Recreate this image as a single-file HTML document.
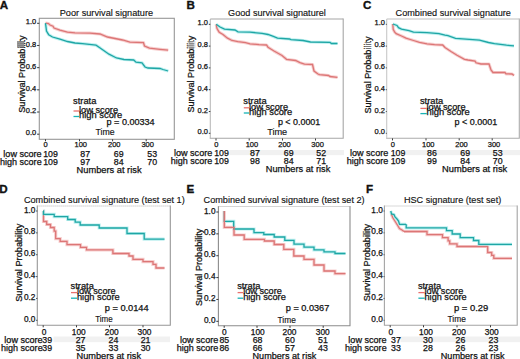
<!DOCTYPE html>
<html><head><meta charset="utf-8"><style>
html,body{margin:0;padding:0;background:#fff;}
body{width:520px;height:359px;overflow:hidden;}
svg{display:block;font-family:"Liberation Sans", sans-serif;}
text{stroke:#111;stroke-width:0.25px;}
text.t{stroke-width:0.14px;}
text.L{stroke-width:0.35px;}
</style></head><body>
<svg width="520" height="359" viewBox="0 0 520 359">
<rect x="0" y="0" width="520" height="359" fill="#fff"/>
<polyline points="45.50,23.20 48.50,23.60 50.00,25.00 53.00,26.20 54.00,28.00 60.00,30.20 67.50,32.20 75.00,32.80 90.00,33.20 100.00,34.00 107.50,37.00 115.00,38.50 122.50,40.00 130.00,42.20 143.50,42.70 144.50,46.00 149.50,48.20 160.00,49.30 168.20,50.20" fill="none" stroke="#f7cfcf" stroke-width="3.2" stroke-linejoin="round"/>
<polyline points="45.50,23.20 46.50,31.00 48.70,34.70 52.50,37.00 60.00,39.20 67.50,41.50 75.00,43.00 82.50,43.70 96.00,45.20 100.50,48.20 109.00,54.20 116.50,58.00 124.00,59.50 133.70,60.00 136.00,62.20 142.00,62.80 145.00,67.00 148.00,68.00 160.00,68.50 163.00,69.50 168.20,71.00" fill="none" stroke="#bff0f0" stroke-width="3.2" stroke-linejoin="round"/>
<polyline points="216.20,24.30 217.00,28.50 219.20,32.20 223.00,34.50 227.50,38.20 232.00,40.50 238.00,41.70 245.50,42.70 250.00,43.80 259.00,44.70 266.50,45.00 268.00,47.20 274.00,51.00 282.00,55.50 286.50,59.30 295.50,60.50 300.00,62.70 304.50,64.20 312.50,64.50 314.00,71.00 318.00,74.00 319.50,74.70 328.50,75.50 330.00,76.50 337.50,77.30" fill="none" stroke="#f7cfcf" stroke-width="3.2" stroke-linejoin="round"/>
<polyline points="216.20,24.30 220.00,27.00 224.50,29.20 235.00,30.00 238.00,31.80 250.00,32.20 262.00,33.30 268.00,34.50 274.00,36.70 277.50,38.20 289.50,39.00 291.00,39.70 303.00,40.50 310.50,42.00 330.00,42.40 331.50,43.50 337.50,43.50" fill="none" stroke="#bff0f0" stroke-width="3.2" stroke-linejoin="round"/>
<polyline points="392.80,24.00 393.20,29.20 394.70,32.20 396.20,33.70 401.50,36.00 406.00,38.20 413.50,40.50 419.50,42.30 427.00,43.80 434.50,44.70 442.70,45.00 445.00,47.50 451.00,51.50 457.00,55.20 464.50,59.30 468.00,60.00 475.00,61.00 476.00,62.80 481.00,64.00 489.00,64.00 491.00,70.00 493.00,72.50 505.00,72.50 506.00,73.80 512.00,74.00 514.00,75.50" fill="none" stroke="#f7cfcf" stroke-width="3.2" stroke-linejoin="round"/>
<polyline points="392.80,24.00 397.00,25.50 398.50,27.70 401.50,29.20 409.00,30.70 413.50,32.20 427.00,32.70 439.00,33.70 445.00,35.20 448.00,35.70 455.50,38.30 466.00,39.20 479.50,40.20 488.50,42.50 494.50,43.70 506.50,45.20 514.00,45.80" fill="none" stroke="#bff0f0" stroke-width="3.2" stroke-linejoin="round"/>
<path d="M43.30,211.00 H43.50 V221.50 H46.70 V224.50 H50.50 V227.50 H54.20 V231.20 H55.70 V238.70 H60.20 V241.40 H67.00 V244.70 H80.50 V247.40 H86.50 V249.90 H112.90 V253.50 H129.00 V256.00 H133.00 V259.40 H143.00 V261.60 H153.00 V264.40 H156.00 V268.00 H164.50" fill="none" stroke="#f7cfcf" stroke-width="3.2"/>
<path d="M43.30,211.00 H43.50 V214.30 H54.20 V216.70 H67.70 V219.50 H75.20 V222.20 H80.20 V225.00 H99.20 V228.00 H127.00 V233.50 H144.20 V239.20 H164.50" fill="none" stroke="#bff0f0" stroke-width="3.2"/>
<path d="M224.30,211.00 H224.30 V221.30 H233.70 V229.00 H254.00 V232.60 H263.80 V234.50 H274.20 V237.00 H284.80 V240.30 H294.00 V244.20 H304.00 V247.20 H314.00 V249.80 H324.00 V251.80 H335.00 V253.50 H345.50" fill="none" stroke="#bff0f0" stroke-width="3.2"/>
<path d="M224.30,211.00 H224.30 V227.40 H234.00 V235.00 H244.20 V239.30 H264.40 V241.00 H274.20 V244.50 H283.80 V249.40 H293.80 V256.00 H304.00 V259.40 H314.00 V265.00 H324.00 V271.00 H335.00 V273.70 H345.50" fill="none" stroke="#f7cfcf" stroke-width="3.2"/>
<polyline points="391.30,214.00 393.00,218.00 395.50,222.00 398.00,226.00 399.50,228.60 402.00,230.00 404.00,231.50" fill="none" stroke="#f7cfcf" stroke-width="3.2" stroke-linejoin="round"/>
<path d="M404.00,231.50 H427.00 V234.60 H442.50 V237.60 H448.10 V240.80 H449.70 V243.80 H457.00 V246.50 H487.70 V252.50 H491.70 V255.40 H493.80 V258.30 H512.00" fill="none" stroke="#f7cfcf" stroke-width="3.2"/>
<polyline points="390.80,211.00 391.50,214.00 394.00,214.50 395.00,217.00 397.00,219.00 398.50,221.00 399.50,224.30 406.20,224.30" fill="none" stroke="#bff0f0" stroke-width="3.2" stroke-linejoin="round"/>
<path d="M406.20,224.30 H406.20 V227.90 H446.50 V230.70 H452.20 V234.00 H460.20 V237.60 H473.50 V240.50 H478.80 V244.40 H512.00" fill="none" stroke="#bff0f0" stroke-width="3.2"/>
<rect x="229.50" y="150.00" width="114.50" height="5.20" fill="#000" fill-opacity="0.055"/>
<rect x="405.50" y="150.00" width="114.50" height="5.20" fill="#000" fill-opacity="0.055"/>
<rect x="53.50" y="336.50" width="116.50" height="5.70" fill="#000" fill-opacity="0.055"/>
<rect x="400.50" y="336.50" width="119.50" height="5.70" fill="#000" fill-opacity="0.055"/>
<text x="-0.30" y="8.50" font-size="11.60" font-weight="bold" fill="#111" class="L">A</text>
<text x="59.75" y="15.70" font-size="9.10" textLength="93.30" lengthAdjust="spacingAndGlyphs" fill="#111" class="t">Poor survival signature</text>
<rect x="39.30" y="18.30" width="135.00" height="121.00" fill="none" stroke="#979797" stroke-width="1.1"/>
<text x="36.30" y="24.48" font-size="7.50" text-anchor="end" fill="#111">1.0</text>
<line x1="37.10" y1="23.30" x2="39.30" y2="23.30" stroke="#222" stroke-width="0.9"/>
<text x="36.30" y="46.67" font-size="7.50" text-anchor="end" fill="#111">0.8</text>
<line x1="37.10" y1="45.48" x2="39.30" y2="45.48" stroke="#222" stroke-width="0.9"/>
<text x="36.30" y="68.84" font-size="7.50" text-anchor="end" fill="#111">0.6</text>
<line x1="37.10" y1="67.66" x2="39.30" y2="67.66" stroke="#222" stroke-width="0.9"/>
<text x="36.30" y="91.02" font-size="7.50" text-anchor="end" fill="#111">0.4</text>
<line x1="37.10" y1="89.84" x2="39.30" y2="89.84" stroke="#222" stroke-width="0.9"/>
<text x="36.30" y="113.20" font-size="7.50" text-anchor="end" fill="#111">0.2</text>
<line x1="37.10" y1="112.02" x2="39.30" y2="112.02" stroke="#222" stroke-width="0.9"/>
<text x="36.30" y="135.39" font-size="7.50" text-anchor="end" fill="#111">0.0</text>
<line x1="37.10" y1="134.20" x2="39.30" y2="134.20" stroke="#222" stroke-width="0.9"/>
<text transform="translate(24.80,74.10) rotate(-90)" font-size="9.0" text-anchor="middle" textLength="77.20" lengthAdjust="spacingAndGlyphs" fill="#111">Survival Probability</text>
<rect x="17.00" y="41.00" width="7.40" height="6.70" fill="#8c8c8c" fill-opacity="0.9"/>
<text x="45.50" y="147.20" font-size="7.50" text-anchor="middle" fill="#111">0</text>
<line x1="45.50" y1="139.30" x2="45.50" y2="141.30" stroke="#222" stroke-width="0.9"/>
<text x="80.75" y="147.20" font-size="7.50" text-anchor="middle" fill="#111">100</text>
<line x1="79.50" y1="139.30" x2="79.50" y2="141.30" stroke="#222" stroke-width="0.9"/>
<text x="114.25" y="147.20" font-size="7.50" text-anchor="middle" fill="#111">200</text>
<line x1="112.60" y1="139.30" x2="112.60" y2="141.30" stroke="#222" stroke-width="0.9"/>
<text x="147.70" y="147.20" font-size="7.50" text-anchor="middle" fill="#111">300</text>
<line x1="146.20" y1="139.30" x2="146.20" y2="141.30" stroke="#222" stroke-width="0.9"/>
<polyline points="45.50,23.20 48.50,23.60 50.00,25.00 53.00,26.20 54.00,28.00 60.00,30.20 67.50,32.20 75.00,32.80 90.00,33.20 100.00,34.00 107.50,37.00 115.00,38.50 122.50,40.00 130.00,42.20 143.50,42.70 144.50,46.00 149.50,48.20 160.00,49.30 168.20,50.20" fill="none" stroke="#dc7676" stroke-width="1.3" stroke-linejoin="miter"/>
<polyline points="45.50,23.20 46.50,31.00 48.70,34.70 52.50,37.00 60.00,39.20 67.50,41.50 75.00,43.00 82.50,43.70 96.00,45.20 100.50,48.20 109.00,54.20 116.50,58.00 124.00,59.50 133.70,60.00 136.00,62.20 142.00,62.80 145.00,67.00 148.00,68.00 160.00,68.50 163.00,69.50 168.20,71.00" fill="none" stroke="#1fa6a5" stroke-width="1.3" stroke-linejoin="miter"/>
<text x="73.05" y="104.10" font-size="9.00" textLength="23.30" lengthAdjust="spacingAndGlyphs" fill="#111">strata</text>
<text x="79.05" y="112.70" font-size="9.00" textLength="39.00" lengthAdjust="spacingAndGlyphs" fill="#111">low score</text>
<text x="79.05" y="117.60" font-size="9.00" textLength="43.10" lengthAdjust="spacingAndGlyphs" fill="#111">high score</text>
<line x1="73.50" y1="111.00" x2="79.30" y2="111.00" stroke="#e8706e" stroke-width="1.3"/>
<line x1="73.50" y1="116.50" x2="79.30" y2="116.50" stroke="#17b3b5" stroke-width="1.3"/>
<text x="106.55" y="124.90" font-size="8.90" textLength="48.10" lengthAdjust="spacingAndGlyphs" fill="#111">p = 0.00334</text>
<text x="95.55" y="135.20" font-size="8.60" textLength="19.10" lengthAdjust="spacingAndGlyphs" fill="#111" class="t">Time</text>
<text x="3.35" y="157.30" font-size="8.80" textLength="38.30" lengthAdjust="spacingAndGlyphs" fill="#111">low score</text>
<text x="0.05" y="164.80" font-size="8.80" textLength="41.60" lengthAdjust="spacingAndGlyphs" fill="#111">high score</text>
<text x="50.50" y="157.30" font-size="8.80" text-anchor="middle" fill="#111">109</text>
<text x="50.50" y="164.80" font-size="8.80" text-anchor="middle" fill="#111">109</text>
<text x="85.25" y="157.30" font-size="8.80" text-anchor="middle" fill="#111">87</text>
<text x="85.25" y="164.80" font-size="8.80" text-anchor="middle" fill="#111">97</text>
<text x="118.75" y="157.30" font-size="8.80" text-anchor="middle" fill="#111">69</text>
<text x="118.75" y="164.80" font-size="8.80" text-anchor="middle" fill="#111">84</text>
<text x="152.25" y="157.30" font-size="8.80" text-anchor="middle" fill="#111">53</text>
<text x="152.25" y="164.80" font-size="8.80" text-anchor="middle" fill="#111">70</text>
<text x="76.55" y="173.00" font-size="9.20" textLength="65.00" lengthAdjust="spacingAndGlyphs" fill="#111">Numbers at risk</text>
<text x="186.50" y="8.50" font-size="11.60" font-weight="bold" fill="#111" class="L">B</text>
<text x="228.05" y="15.70" font-size="9.10" textLength="97.80" lengthAdjust="spacingAndGlyphs" fill="#111" class="t">Good survival signaturel</text>
<path d="M343.20,19.00 V138.30 H210.30" fill="none" stroke="#a6a6a6" stroke-width="1.1" stroke-linecap="square"/>
<line x1="210.30" y1="19.00" x2="210.30" y2="138.30" stroke="#bababa" stroke-width="1.1"/>
<line x1="210.30" y1="19.00" x2="343.20" y2="19.00" stroke="#a6a6a6" stroke-width="1.1"/>
<text x="208.00" y="25.33" font-size="7.50" text-anchor="end" fill="#111">1.0</text>
<line x1="208.80" y1="24.30" x2="210.30" y2="24.30" stroke="#222" stroke-width="0.9"/>
<text x="208.00" y="47.17" font-size="7.50" text-anchor="end" fill="#111">0.8</text>
<line x1="208.80" y1="46.10" x2="210.30" y2="46.10" stroke="#222" stroke-width="0.9"/>
<text x="208.00" y="69.00" font-size="7.50" text-anchor="end" fill="#111">0.6</text>
<line x1="208.80" y1="67.90" x2="210.30" y2="67.90" stroke="#222" stroke-width="0.9"/>
<text x="208.00" y="90.83" font-size="7.50" text-anchor="end" fill="#111">0.4</text>
<line x1="208.80" y1="89.70" x2="210.30" y2="89.70" stroke="#222" stroke-width="0.9"/>
<text x="208.00" y="112.66" font-size="7.50" text-anchor="end" fill="#111">0.2</text>
<line x1="208.80" y1="111.50" x2="210.30" y2="111.50" stroke="#222" stroke-width="0.9"/>
<text x="208.00" y="134.49" font-size="7.50" text-anchor="end" fill="#111">0.0</text>
<line x1="208.80" y1="133.30" x2="210.30" y2="133.30" stroke="#222" stroke-width="0.9"/>
<text transform="translate(194.20,74.10) rotate(-90)" font-size="9.0" text-anchor="middle" textLength="77.00" lengthAdjust="spacingAndGlyphs" fill="#111">Survival Probability</text>
<rect x="187.70" y="41.00" width="7.80" height="7.00" fill="#999" fill-opacity="0.35"/>
<rect x="187.70" y="41.00" width="7.80" height="7.00" fill="#fff" fill-opacity="0.3"/>
<text x="216.40" y="147.20" font-size="7.50" text-anchor="middle" fill="#111">0</text>
<line x1="216.00" y1="138.50" x2="216.00" y2="140.50" stroke="#222" stroke-width="0.9"/>
<text x="251.90" y="147.20" font-size="7.50" text-anchor="middle" fill="#111">100</text>
<line x1="249.20" y1="138.50" x2="249.20" y2="140.50" stroke="#222" stroke-width="0.9"/>
<text x="284.50" y="147.20" font-size="7.50" text-anchor="middle" fill="#111">200</text>
<line x1="282.50" y1="138.50" x2="282.50" y2="140.50" stroke="#222" stroke-width="0.9"/>
<text x="317.60" y="147.20" font-size="7.50" text-anchor="middle" fill="#111">300</text>
<line x1="315.50" y1="138.50" x2="315.50" y2="140.50" stroke="#222" stroke-width="0.9"/>
<polyline points="216.20,24.30 217.00,28.50 219.20,32.20 223.00,34.50 227.50,38.20 232.00,40.50 238.00,41.70 245.50,42.70 250.00,43.80 259.00,44.70 266.50,45.00 268.00,47.20 274.00,51.00 282.00,55.50 286.50,59.30 295.50,60.50 300.00,62.70 304.50,64.20 312.50,64.50 314.00,71.00 318.00,74.00 319.50,74.70 328.50,75.50 330.00,76.50 337.50,77.30" fill="none" stroke="#dc7676" stroke-width="1.3" stroke-linejoin="miter"/>
<polyline points="216.20,24.30 220.00,27.00 224.50,29.20 235.00,30.00 238.00,31.80 250.00,32.20 262.00,33.30 268.00,34.50 274.00,36.70 277.50,38.20 289.50,39.00 291.00,39.70 303.00,40.50 310.50,42.00 330.00,42.40 331.50,43.50 337.50,43.50" fill="none" stroke="#1fa6a5" stroke-width="1.3" stroke-linejoin="miter"/>
<text x="243.35" y="104.40" font-size="9.00" textLength="23.30" lengthAdjust="spacingAndGlyphs" fill="#111">strata</text>
<text x="249.05" y="110.10" font-size="9.00" textLength="39.00" lengthAdjust="spacingAndGlyphs" fill="#111">low score</text>
<text x="249.05" y="114.70" font-size="9.00" textLength="43.10" lengthAdjust="spacingAndGlyphs" fill="#111">high score</text>
<line x1="243.80" y1="107.80" x2="249.30" y2="107.80" stroke="#e8706e" stroke-width="1.3"/>
<line x1="243.80" y1="113.00" x2="249.30" y2="113.00" stroke="#17b3b5" stroke-width="1.3"/>
<text x="277.95" y="124.90" font-size="8.90" textLength="42.30" lengthAdjust="spacingAndGlyphs" fill="#111">p &lt; 0.0001</text>
<text x="267.15" y="135.20" font-size="8.60" textLength="20.10" lengthAdjust="spacingAndGlyphs" fill="#111" class="t">Time</text>
<text x="173.95" y="156.30" font-size="8.80" textLength="38.30" lengthAdjust="spacingAndGlyphs" fill="#111">low score</text>
<text x="170.65" y="163.80" font-size="8.80" textLength="41.60" lengthAdjust="spacingAndGlyphs" fill="#111">high score</text>
<text x="221.50" y="156.30" font-size="8.80" text-anchor="middle" fill="#111">109</text>
<text x="221.50" y="163.80" font-size="8.80" text-anchor="middle" fill="#111">109</text>
<text x="255.00" y="156.30" font-size="8.80" text-anchor="middle" fill="#111">87</text>
<text x="255.00" y="163.80" font-size="8.80" text-anchor="middle" fill="#111">98</text>
<text x="288.75" y="156.30" font-size="8.80" text-anchor="middle" fill="#111">69</text>
<text x="288.75" y="163.80" font-size="8.80" text-anchor="middle" fill="#111">84</text>
<text x="321.25" y="156.30" font-size="8.80" text-anchor="middle" fill="#111">52</text>
<text x="321.25" y="163.80" font-size="8.80" text-anchor="middle" fill="#111">71</text>
<text x="265.80" y="171.80" font-size="9.20" textLength="64.45" lengthAdjust="spacingAndGlyphs" fill="#111">Numbers at risk</text>
<text x="363.10" y="8.60" font-size="11.60" font-weight="bold" fill="#111" class="L">C</text>
<text x="395.55" y="15.70" font-size="9.10" textLength="115.30" lengthAdjust="spacingAndGlyphs" fill="#111" class="t">Combined survival signature</text>
<path d="M519.30,19.00 V138.30 H386.70" fill="none" stroke="#acacac" stroke-width="1.1" stroke-linecap="square"/>
<line x1="386.70" y1="19.00" x2="386.70" y2="138.30" stroke="#c8c8c8" stroke-width="1.1"/>
<line x1="386.70" y1="19.00" x2="519.30" y2="19.00" stroke="#c0c0c0" stroke-width="1.1"/>
<text x="385.00" y="25.33" font-size="7.50" text-anchor="end" fill="#111">1.0</text>
<line x1="385.80" y1="24.30" x2="386.70" y2="24.30" stroke="#222" stroke-width="0.9"/>
<text x="385.00" y="47.17" font-size="7.50" text-anchor="end" fill="#111">0.8</text>
<line x1="385.80" y1="46.10" x2="386.70" y2="46.10" stroke="#222" stroke-width="0.9"/>
<text x="385.00" y="69.00" font-size="7.50" text-anchor="end" fill="#111">0.6</text>
<line x1="385.80" y1="67.90" x2="386.70" y2="67.90" stroke="#222" stroke-width="0.9"/>
<text x="385.00" y="90.83" font-size="7.50" text-anchor="end" fill="#111">0.4</text>
<line x1="385.80" y1="89.70" x2="386.70" y2="89.70" stroke="#222" stroke-width="0.9"/>
<text x="385.00" y="112.66" font-size="7.50" text-anchor="end" fill="#111">0.2</text>
<line x1="385.80" y1="111.50" x2="386.70" y2="111.50" stroke="#222" stroke-width="0.9"/>
<text x="385.00" y="134.49" font-size="7.50" text-anchor="end" fill="#111">0.0</text>
<line x1="385.80" y1="133.30" x2="386.70" y2="133.30" stroke="#222" stroke-width="0.9"/>
<text transform="translate(370.90,75.05) rotate(-90)" font-size="9.0" text-anchor="middle" textLength="77.10" lengthAdjust="spacingAndGlyphs" fill="#111">Survival Probability</text>
<rect x="364.50" y="42.00" width="8.00" height="7.40" fill="#fff" fill-opacity="0.4"/>
<text x="392.75" y="147.20" font-size="7.50" text-anchor="middle" fill="#111">0</text>
<line x1="392.50" y1="138.40" x2="392.50" y2="140.40" stroke="#222" stroke-width="0.9"/>
<text x="428.25" y="147.20" font-size="7.50" text-anchor="middle" fill="#111">100</text>
<line x1="426.00" y1="138.40" x2="426.00" y2="140.40" stroke="#222" stroke-width="0.9"/>
<text x="461.50" y="147.20" font-size="7.50" text-anchor="middle" fill="#111">200</text>
<line x1="459.20" y1="138.40" x2="459.20" y2="140.40" stroke="#222" stroke-width="0.9"/>
<text x="494.00" y="147.20" font-size="7.50" text-anchor="middle" fill="#111">300</text>
<line x1="492.20" y1="138.40" x2="492.20" y2="140.40" stroke="#222" stroke-width="0.9"/>
<polyline points="392.80,24.00 393.20,29.20 394.70,32.20 396.20,33.70 401.50,36.00 406.00,38.20 413.50,40.50 419.50,42.30 427.00,43.80 434.50,44.70 442.70,45.00 445.00,47.50 451.00,51.50 457.00,55.20 464.50,59.30 468.00,60.00 475.00,61.00 476.00,62.80 481.00,64.00 489.00,64.00 491.00,70.00 493.00,72.50 505.00,72.50 506.00,73.80 512.00,74.00 514.00,75.50" fill="none" stroke="#dc7676" stroke-width="1.3" stroke-linejoin="miter"/>
<polyline points="392.80,24.00 397.00,25.50 398.50,27.70 401.50,29.20 409.00,30.70 413.50,32.20 427.00,32.70 439.00,33.70 445.00,35.20 448.00,35.70 455.50,38.30 466.00,39.20 479.50,40.20 488.50,42.50 494.50,43.70 506.50,45.20 514.00,45.80" fill="none" stroke="#1fa6a5" stroke-width="1.3" stroke-linejoin="miter"/>
<text x="419.95" y="104.20" font-size="9.00" textLength="23.30" lengthAdjust="spacingAndGlyphs" fill="#111">strata</text>
<text x="426.55" y="109.90" font-size="9.00" textLength="39.00" lengthAdjust="spacingAndGlyphs" fill="#111">low score</text>
<text x="426.55" y="114.50" font-size="9.00" textLength="43.10" lengthAdjust="spacingAndGlyphs" fill="#111">high score</text>
<line x1="420.40" y1="108.40" x2="426.80" y2="108.40" stroke="#e8706e" stroke-width="1.3"/>
<line x1="420.40" y1="113.60" x2="426.80" y2="113.60" stroke="#17b3b5" stroke-width="1.3"/>
<text x="454.55" y="124.90" font-size="8.90" textLength="42.70" lengthAdjust="spacingAndGlyphs" fill="#111">p &lt; 0.0001</text>
<text x="349.95" y="156.30" font-size="8.80" textLength="38.30" lengthAdjust="spacingAndGlyphs" fill="#111">low score</text>
<text x="346.65" y="163.80" font-size="8.80" textLength="41.60" lengthAdjust="spacingAndGlyphs" fill="#111">high score</text>
<text x="398.00" y="156.30" font-size="8.80" text-anchor="middle" fill="#111">109</text>
<text x="398.00" y="163.80" font-size="8.80" text-anchor="middle" fill="#111">109</text>
<text x="431.90" y="156.30" font-size="8.80" text-anchor="middle" fill="#111">86</text>
<text x="431.90" y="163.80" font-size="8.80" text-anchor="middle" fill="#111">99</text>
<text x="465.25" y="156.30" font-size="8.80" text-anchor="middle" fill="#111">69</text>
<text x="465.25" y="163.80" font-size="8.80" text-anchor="middle" fill="#111">84</text>
<text x="497.75" y="156.30" font-size="8.80" text-anchor="middle" fill="#111">53</text>
<text x="497.75" y="163.80" font-size="8.80" text-anchor="middle" fill="#111">70</text>
<text x="442.05" y="171.80" font-size="9.20" textLength="65.20" lengthAdjust="spacingAndGlyphs" fill="#111">Numbers at risk</text>
<text x="-0.70" y="192.90" font-size="11.60" font-weight="bold" fill="#111" class="L">D</text>
<text x="23.95" y="203.30" font-size="9.10" textLength="160.80" lengthAdjust="spacingAndGlyphs" fill="#111" class="t">Combined survival signature (test set 1)</text>
<path d="M37.30,206.00 V325.30 H170.30 V206.00" fill="none" stroke="#979797" stroke-width="1.1" stroke-linecap="square"/>
<line x1="37.30" y1="206.00" x2="170.30" y2="206.00" stroke="#b8b8b8" stroke-width="0.9" stroke-dasharray="1.2,0.8"/>
<text x="35.40" y="212.55" font-size="8.25" text-anchor="end" fill="#111">1.0</text>
<line x1="36.20" y1="211.00" x2="37.30" y2="211.00" stroke="#222" stroke-width="0.9"/>
<text x="35.40" y="234.41" font-size="8.25" text-anchor="end" fill="#111">0.8</text>
<line x1="36.20" y1="232.86" x2="37.30" y2="232.86" stroke="#222" stroke-width="0.9"/>
<text x="35.40" y="256.27" font-size="8.25" text-anchor="end" fill="#111">0.6</text>
<line x1="36.20" y1="254.72" x2="37.30" y2="254.72" stroke="#222" stroke-width="0.9"/>
<text x="35.40" y="278.13" font-size="8.25" text-anchor="end" fill="#111">0.4</text>
<line x1="36.20" y1="276.58" x2="37.30" y2="276.58" stroke="#222" stroke-width="0.9"/>
<text x="35.40" y="299.99" font-size="8.25" text-anchor="end" fill="#111">0.2</text>
<line x1="36.20" y1="298.44" x2="37.30" y2="298.44" stroke="#222" stroke-width="0.9"/>
<text x="35.40" y="321.85" font-size="8.25" text-anchor="end" fill="#111">0.0</text>
<line x1="36.20" y1="320.30" x2="37.30" y2="320.30" stroke="#222" stroke-width="0.9"/>
<text transform="translate(21.60,262.70) rotate(-90)" font-size="9.0" text-anchor="middle" textLength="78.20" lengthAdjust="spacingAndGlyphs" fill="#111">Survival Probability</text>
<text x="44.00" y="335.00" font-size="8.35" text-anchor="middle" fill="#111">0</text>
<line x1="43.20" y1="325.30" x2="43.20" y2="327.30" stroke="#222" stroke-width="0.9"/>
<text x="78.75" y="335.00" font-size="8.35" text-anchor="middle" fill="#111">100</text>
<line x1="76.50" y1="325.30" x2="76.50" y2="327.30" stroke="#222" stroke-width="0.9"/>
<text x="111.75" y="335.00" font-size="8.35" text-anchor="middle" fill="#111">200</text>
<line x1="109.50" y1="325.30" x2="109.50" y2="327.30" stroke="#222" stroke-width="0.9"/>
<text x="144.50" y="335.00" font-size="8.35" text-anchor="middle" fill="#111">300</text>
<line x1="143.00" y1="325.30" x2="143.00" y2="327.30" stroke="#222" stroke-width="0.9"/>
<path d="M43.30,211.00 H43.50 V221.50 H46.70 V224.50 H50.50 V227.50 H54.20 V231.20 H55.70 V238.70 H60.20 V241.40 H67.00 V244.70 H80.50 V247.40 H86.50 V249.90 H112.90 V253.50 H129.00 V256.00 H133.00 V259.40 H143.00 V261.60 H153.00 V264.40 H156.00 V268.00 H164.50" fill="none" stroke="#dc7676" stroke-width="1.3"/>
<path d="M43.30,211.00 H43.50 V214.30 H54.20 V216.70 H67.70 V219.50 H75.20 V222.20 H80.20 V225.00 H99.20 V228.00 H127.00 V233.50 H144.20 V239.20 H164.50" fill="none" stroke="#1fa6a5" stroke-width="1.3"/>
<text x="70.55" y="288.90" font-size="9.00" textLength="23.30" lengthAdjust="spacingAndGlyphs" fill="#111">strata</text>
<text x="76.95" y="294.10" font-size="9.00" textLength="38.70" lengthAdjust="spacingAndGlyphs" fill="#111">low score</text>
<text x="76.95" y="299.50" font-size="9.00" textLength="42.70" lengthAdjust="spacingAndGlyphs" fill="#111">high score</text>
<line x1="71.00" y1="292.60" x2="77.20" y2="292.60" stroke="#e8706e" stroke-width="1.3"/>
<line x1="71.00" y1="298.20" x2="77.20" y2="298.20" stroke="#17b3b5" stroke-width="1.3"/>
<text x="104.75" y="311.00" font-size="8.90" textLength="43.90" lengthAdjust="spacingAndGlyphs" fill="#111">p = 0.0144</text>
<text x="95.15" y="322.40" font-size="8.40" textLength="17.50" lengthAdjust="spacingAndGlyphs" fill="#111" class="t">Time</text>
<text x="4.35" y="343.10" font-size="8.80" textLength="38.30" lengthAdjust="spacingAndGlyphs" fill="#111">low score</text>
<text x="1.05" y="350.60" font-size="8.80" textLength="41.60" lengthAdjust="spacingAndGlyphs" fill="#111">high score</text>
<text x="47.20" y="343.10" font-size="8.80" text-anchor="middle" fill="#111">39</text>
<text x="47.20" y="350.60" font-size="8.80" text-anchor="middle" fill="#111">39</text>
<text x="80.60" y="343.10" font-size="8.80" text-anchor="middle" fill="#111">27</text>
<text x="80.60" y="350.60" font-size="8.80" text-anchor="middle" fill="#111">35</text>
<text x="113.50" y="343.10" font-size="8.80" text-anchor="middle" fill="#111">24</text>
<text x="113.50" y="350.60" font-size="8.80" text-anchor="middle" fill="#111">33</text>
<text x="145.60" y="343.10" font-size="8.80" text-anchor="middle" fill="#111">21</text>
<text x="145.60" y="350.60" font-size="8.80" text-anchor="middle" fill="#111">30</text>
<text x="76.55" y="359.40" font-size="9.20" textLength="64.50" lengthAdjust="spacingAndGlyphs" fill="#111">Numbers at risk</text>
<text x="186.50" y="192.90" font-size="11.60" font-weight="bold" fill="#111" class="L">E</text>
<text x="203.55" y="203.00" font-size="9.10" textLength="161.10" lengthAdjust="spacingAndGlyphs" fill="#111" class="t">Combined survival signature (test set 2)</text>
<path d="M218.40,206.50 V325.80 H350.00 V206.50" fill="none" stroke="#8c8c8c" stroke-width="1.1" stroke-linecap="square"/>
<line x1="218.40" y1="206.50" x2="350.00" y2="206.50" stroke="#b0b0b0" stroke-width="0.9" stroke-dasharray="1.2,0.8"/>
<text x="215.50" y="213.60" font-size="8.25" text-anchor="end" fill="#111">1.0</text>
<line x1="216.30" y1="212.00" x2="218.40" y2="212.00" stroke="#222" stroke-width="0.9"/>
<text x="215.50" y="235.43" font-size="8.25" text-anchor="end" fill="#111">0.8</text>
<line x1="216.30" y1="233.86" x2="218.40" y2="233.86" stroke="#222" stroke-width="0.9"/>
<text x="215.50" y="257.26" font-size="8.25" text-anchor="end" fill="#111">0.6</text>
<line x1="216.30" y1="255.72" x2="218.40" y2="255.72" stroke="#222" stroke-width="0.9"/>
<text x="215.50" y="279.09" font-size="8.25" text-anchor="end" fill="#111">0.4</text>
<line x1="216.30" y1="277.58" x2="218.40" y2="277.58" stroke="#222" stroke-width="0.9"/>
<text x="215.50" y="300.92" font-size="8.25" text-anchor="end" fill="#111">0.2</text>
<line x1="216.30" y1="299.44" x2="218.40" y2="299.44" stroke="#222" stroke-width="0.9"/>
<text x="215.50" y="322.75" font-size="8.25" text-anchor="end" fill="#111">0.0</text>
<line x1="216.30" y1="321.30" x2="218.40" y2="321.30" stroke="#222" stroke-width="0.9"/>
<text transform="translate(201.90,267.30) rotate(-90)" font-size="9.0" text-anchor="middle" textLength="77.40" lengthAdjust="spacingAndGlyphs" fill="#111">Survival Probability</text>
<text x="224.25" y="334.80" font-size="8.35" text-anchor="middle" fill="#111">0</text>
<line x1="224.20" y1="325.80" x2="224.20" y2="327.80" stroke="#222" stroke-width="0.9"/>
<text x="257.75" y="334.80" font-size="8.35" text-anchor="middle" fill="#111">100</text>
<line x1="257.00" y1="325.80" x2="257.00" y2="327.80" stroke="#222" stroke-width="0.9"/>
<text x="289.50" y="334.80" font-size="8.35" text-anchor="middle" fill="#111">200</text>
<line x1="290.00" y1="325.80" x2="290.00" y2="327.80" stroke="#222" stroke-width="0.9"/>
<text x="322.75" y="334.80" font-size="8.35" text-anchor="middle" fill="#111">300</text>
<line x1="323.20" y1="325.80" x2="323.20" y2="327.80" stroke="#222" stroke-width="0.9"/>
<path d="M224.30,211.00 H224.30 V221.30 H233.70 V229.00 H254.00 V232.60 H263.80 V234.50 H274.20 V237.00 H284.80 V240.30 H294.00 V244.20 H304.00 V247.20 H314.00 V249.80 H324.00 V251.80 H335.00 V253.50 H345.50" fill="none" stroke="#1fa6a5" stroke-width="1.3"/>
<path d="M224.30,211.00 H224.30 V227.40 H234.00 V235.00 H244.20 V239.30 H264.40 V241.00 H274.20 V244.50 H283.80 V249.40 H293.80 V256.00 H304.00 V259.40 H314.00 V265.00 H324.00 V271.00 H335.00 V273.70 H345.50" fill="none" stroke="#dc7676" stroke-width="1.3"/>
<text x="237.15" y="288.90" font-size="9.00" textLength="23.30" lengthAdjust="spacingAndGlyphs" fill="#111">strata</text>
<text x="243.15" y="294.10" font-size="9.00" textLength="38.70" lengthAdjust="spacingAndGlyphs" fill="#111">low score</text>
<text x="243.15" y="299.50" font-size="9.00" textLength="42.70" lengthAdjust="spacingAndGlyphs" fill="#111">high score</text>
<line x1="237.60" y1="292.60" x2="243.40" y2="292.60" stroke="#e8706e" stroke-width="1.3"/>
<line x1="237.60" y1="298.20" x2="243.40" y2="298.20" stroke="#17b3b5" stroke-width="1.3"/>
<text x="285.75" y="311.00" font-size="8.90" textLength="43.50" lengthAdjust="spacingAndGlyphs" fill="#111">p = 0.0367</text>
<text x="277.55" y="323.00" font-size="8.40" textLength="18.30" lengthAdjust="spacingAndGlyphs" fill="#111" class="t">Time</text>
<text x="179.95" y="343.10" font-size="8.80" textLength="38.30" lengthAdjust="spacingAndGlyphs" fill="#111">low score</text>
<text x="176.65" y="350.60" font-size="8.80" textLength="41.60" lengthAdjust="spacingAndGlyphs" fill="#111">high score</text>
<text x="224.30" y="343.10" font-size="8.80" text-anchor="middle" fill="#111">85</text>
<text x="224.30" y="350.60" font-size="8.80" text-anchor="middle" fill="#111">86</text>
<text x="257.60" y="343.10" font-size="8.80" text-anchor="middle" fill="#111">68</text>
<text x="257.60" y="350.60" font-size="8.80" text-anchor="middle" fill="#111">66</text>
<text x="290.00" y="343.10" font-size="8.80" text-anchor="middle" fill="#111">60</text>
<text x="290.00" y="350.60" font-size="8.80" text-anchor="middle" fill="#111">57</text>
<text x="323.00" y="343.10" font-size="8.80" text-anchor="middle" fill="#111">51</text>
<text x="323.00" y="350.60" font-size="8.80" text-anchor="middle" fill="#111">43</text>
<text x="252.55" y="359.40" font-size="9.20" textLength="63.70" lengthAdjust="spacingAndGlyphs" fill="#111">Numbers at risk</text>
<text x="366.10" y="192.90" font-size="11.60" font-weight="bold" fill="#111" class="L">F</text>
<text x="403.95" y="203.30" font-size="9.10" textLength="97.30" lengthAdjust="spacingAndGlyphs" fill="#111" class="t">HSC signature (test set)</text>
<path d="M384.40,206.00 V325.30 H517.20 V206.00" fill="none" stroke="#a4a4a4" stroke-width="1.1" stroke-linecap="square"/>
<line x1="384.40" y1="206.00" x2="517.20" y2="206.00" stroke="#b8b8b8" stroke-width="0.9" stroke-dasharray="1.2,0.8"/>
<text x="382.80" y="212.55" font-size="8.25" text-anchor="end" fill="#111">1.0</text>
<line x1="383.60" y1="211.00" x2="384.40" y2="211.00" stroke="#222" stroke-width="0.9"/>
<text x="382.80" y="234.41" font-size="8.25" text-anchor="end" fill="#111">0.8</text>
<line x1="383.60" y1="232.86" x2="384.40" y2="232.86" stroke="#222" stroke-width="0.9"/>
<text x="382.80" y="256.27" font-size="8.25" text-anchor="end" fill="#111">0.6</text>
<line x1="383.60" y1="254.72" x2="384.40" y2="254.72" stroke="#222" stroke-width="0.9"/>
<text x="382.80" y="278.13" font-size="8.25" text-anchor="end" fill="#111">0.4</text>
<line x1="383.60" y1="276.58" x2="384.40" y2="276.58" stroke="#222" stroke-width="0.9"/>
<text x="382.80" y="299.99" font-size="8.25" text-anchor="end" fill="#111">0.2</text>
<line x1="383.60" y1="298.44" x2="384.40" y2="298.44" stroke="#222" stroke-width="0.9"/>
<text x="382.80" y="321.85" font-size="8.25" text-anchor="end" fill="#111">0.0</text>
<line x1="383.60" y1="320.30" x2="384.40" y2="320.30" stroke="#222" stroke-width="0.9"/>
<text transform="translate(370.00,262.65) rotate(-90)" font-size="9.0" text-anchor="middle" textLength="77.30" lengthAdjust="spacingAndGlyphs" fill="#111">Survival Probability</text>
<text x="390.75" y="334.80" font-size="8.35" text-anchor="middle" fill="#111">0</text>
<line x1="390.20" y1="325.30" x2="390.20" y2="327.30" stroke="#222" stroke-width="0.9"/>
<text x="426.00" y="334.80" font-size="8.35" text-anchor="middle" fill="#111">100</text>
<line x1="423.50" y1="325.30" x2="423.50" y2="327.30" stroke="#222" stroke-width="0.9"/>
<text x="459.00" y="334.80" font-size="8.35" text-anchor="middle" fill="#111">200</text>
<line x1="457.00" y1="325.30" x2="457.00" y2="327.30" stroke="#222" stroke-width="0.9"/>
<text x="491.75" y="334.80" font-size="8.35" text-anchor="middle" fill="#111">300</text>
<line x1="490.50" y1="325.30" x2="490.50" y2="327.30" stroke="#222" stroke-width="0.9"/>
<polyline points="391.30,214.00 393.00,218.00 395.50,222.00 398.00,226.00 399.50,228.60 402.00,230.00 404.00,231.50" fill="none" stroke="#dc7676" stroke-width="1.3" stroke-linejoin="miter"/>
<path d="M404.00,231.50 H427.00 V234.60 H442.50 V237.60 H448.10 V240.80 H449.70 V243.80 H457.00 V246.50 H487.70 V252.50 H491.70 V255.40 H493.80 V258.30 H512.00" fill="none" stroke="#dc7676" stroke-width="1.3"/>
<polyline points="390.80,211.00 391.50,214.00 394.00,214.50 395.00,217.00 397.00,219.00 398.50,221.00 399.50,224.30 406.20,224.30" fill="none" stroke="#1fa6a5" stroke-width="1.3" stroke-linejoin="miter"/>
<path d="M406.20,224.30 H406.20 V227.90 H446.50 V230.70 H452.20 V234.00 H460.20 V237.60 H473.50 V240.50 H478.80 V244.40 H512.00" fill="none" stroke="#1fa6a5" stroke-width="1.3"/>
<text x="417.95" y="288.70" font-size="9.00" textLength="23.30" lengthAdjust="spacingAndGlyphs" fill="#111">strata</text>
<text x="424.55" y="294.10" font-size="9.00" textLength="38.70" lengthAdjust="spacingAndGlyphs" fill="#111">low score</text>
<text x="424.55" y="299.50" font-size="9.00" textLength="42.10" lengthAdjust="spacingAndGlyphs" fill="#111">high score</text>
<line x1="418.40" y1="292.60" x2="424.80" y2="292.60" stroke="#e8706e" stroke-width="1.3"/>
<line x1="418.40" y1="298.20" x2="424.80" y2="298.20" stroke="#17b3b5" stroke-width="1.3"/>
<text x="453.95" y="311.00" font-size="8.90" textLength="34.30" lengthAdjust="spacingAndGlyphs" fill="#111">p = 0.29</text>
<text x="447.55" y="322.00" font-size="8.40" textLength="18.30" lengthAdjust="spacingAndGlyphs" fill="#111" class="t">Time</text>
<text x="348.35" y="343.10" font-size="8.80" textLength="38.30" lengthAdjust="spacingAndGlyphs" fill="#111">low score</text>
<text x="345.05" y="350.60" font-size="8.80" textLength="41.60" lengthAdjust="spacingAndGlyphs" fill="#111">high score</text>
<text x="396.00" y="343.10" font-size="8.80" text-anchor="middle" fill="#111">37</text>
<text x="396.00" y="350.60" font-size="8.80" text-anchor="middle" fill="#111">33</text>
<text x="428.00" y="343.10" font-size="8.80" text-anchor="middle" fill="#111">30</text>
<text x="428.00" y="350.60" font-size="8.80" text-anchor="middle" fill="#111">28</text>
<text x="460.40" y="343.10" font-size="8.80" text-anchor="middle" fill="#111">26</text>
<text x="460.40" y="350.60" font-size="8.80" text-anchor="middle" fill="#111">26</text>
<text x="493.40" y="343.10" font-size="8.80" text-anchor="middle" fill="#111">23</text>
<text x="493.40" y="350.60" font-size="8.80" text-anchor="middle" fill="#111">23</text>
<text x="440.80" y="359.20" font-size="9.20" textLength="63.70" lengthAdjust="spacingAndGlyphs" fill="#111">Numbers at risk</text>
</svg>
</body></html>
